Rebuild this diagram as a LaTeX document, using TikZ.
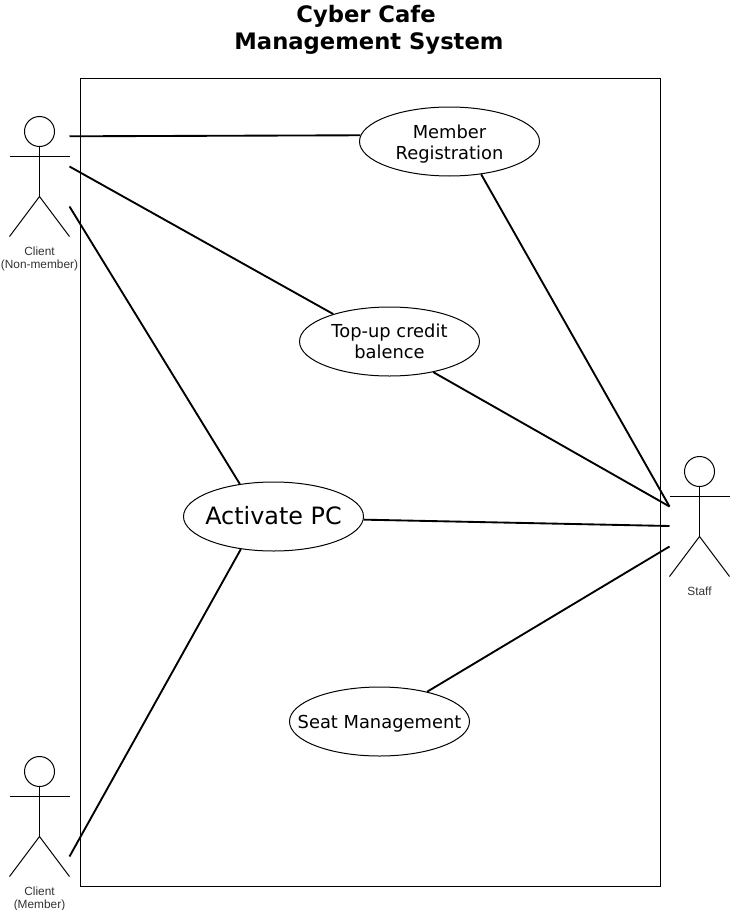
\documentclass[tikz,border=0pt]{standalone}
\usepackage{fontspec}
\setmainfont{DejaVu Sans}
\newfontfamily\lib{Liberation Sans}
\usetikzlibrary{shapes.geometric}
\tikzset{
 uc/.style={draw,ellipse,minimum width=135pt,minimum height=51.75pt,inner sep=-22pt,align=center,line width=0.75pt,font=\fontsize{13.4}{15.8}\selectfont},
 lnk/.style={line width=1.4pt},
 fig/.style={line width=0.75pt},
 act/.style={font=\lib\fontsize{8.9}{10}\selectfont,align=center,text=black!80}
}
\newcommand{\stick}[2]{%
 \draw[fig] (#1,#2+15) circle (11.25pt);
 \draw[fig] (#1,#2+30) -- (#1,#2+80);
 \draw[fig] (#1-30,#2+40) -- (#1+30,#2+40);
 \draw[fig] (#1-30,#2+120) -- (#1,#2+80) -- (#1+30,#2+120);
}
\newcommand{\uctext}[2]{\vbox{\vskip#1pt\hbox{\begin{tabular}{@{}c@{}}#2\end{tabular}}}}
\begin{document}
\begin{tikzpicture}[x=0.75pt,y=-0.75pt]
\useasboundingbox (0,0) rectangle (730,910);
\draw[line width=0.75pt] (80.5,78.5) rectangle (660.5,886.5);
\stick{39.5}{116.5}
\stick{39.5}{756.5}
\stick{699.5}{456.5}
\coordinate (a1) at (69.5,136.3);
\coordinate (a2) at (69.5,166.5);
\coordinate (a3) at (69.5,206.5);
\coordinate (m1) at (69.5,856.5);
\coordinate (s1) at (669.5,506.5);
\coordinate (s2) at (669.5,526);
\coordinate (s3) at (669.5,546.5);
\node[uc] (reg) at (449.5,141.5) {\uctext{4.5}{Member\\Registration}};
\node[uc] (top) at (389.5,341.5) {\uctext{3}{Top-up credit\\balence}};
\node[uc,font=\fontsize{17.9}{20}\selectfont] (act) at (273.5,516.5) {\uctext{4}{Activate PC}};
\node[uc] (seat) at (379.5,721.5) {\uctext{4.5}{Seat Management}};
\draw[lnk] (a1) -- (reg.176.8);
\draw[lnk] (a2) -- (top.154.8);
\draw[lnk] (a3) -- (act.136.3);
\draw[lnk] (m1) -- (act.225.4);
\draw[lnk] (reg.-46) -- (s1);
\draw[lnk] (top.-35) -- (s1);
\draw[lnk] (act.-2) -- (s2);
\draw[lnk] (seat.32.7) -- (s3);
\node[act] (l1) at (39.5,259) {Client\\(Non-member)};
\node[act] (l2) at (39.5,899) {Client\\(Member)};
\node[act] (l3) at (699.5,591) {Staff};
\node[font=\bfseries\fontsize{17}{20.25}\selectfont,align=center] (title) at (369,30) {Cyber Cafe\hspace*{4.5pt}\\Management System};
\end{tikzpicture}
\end{document}
